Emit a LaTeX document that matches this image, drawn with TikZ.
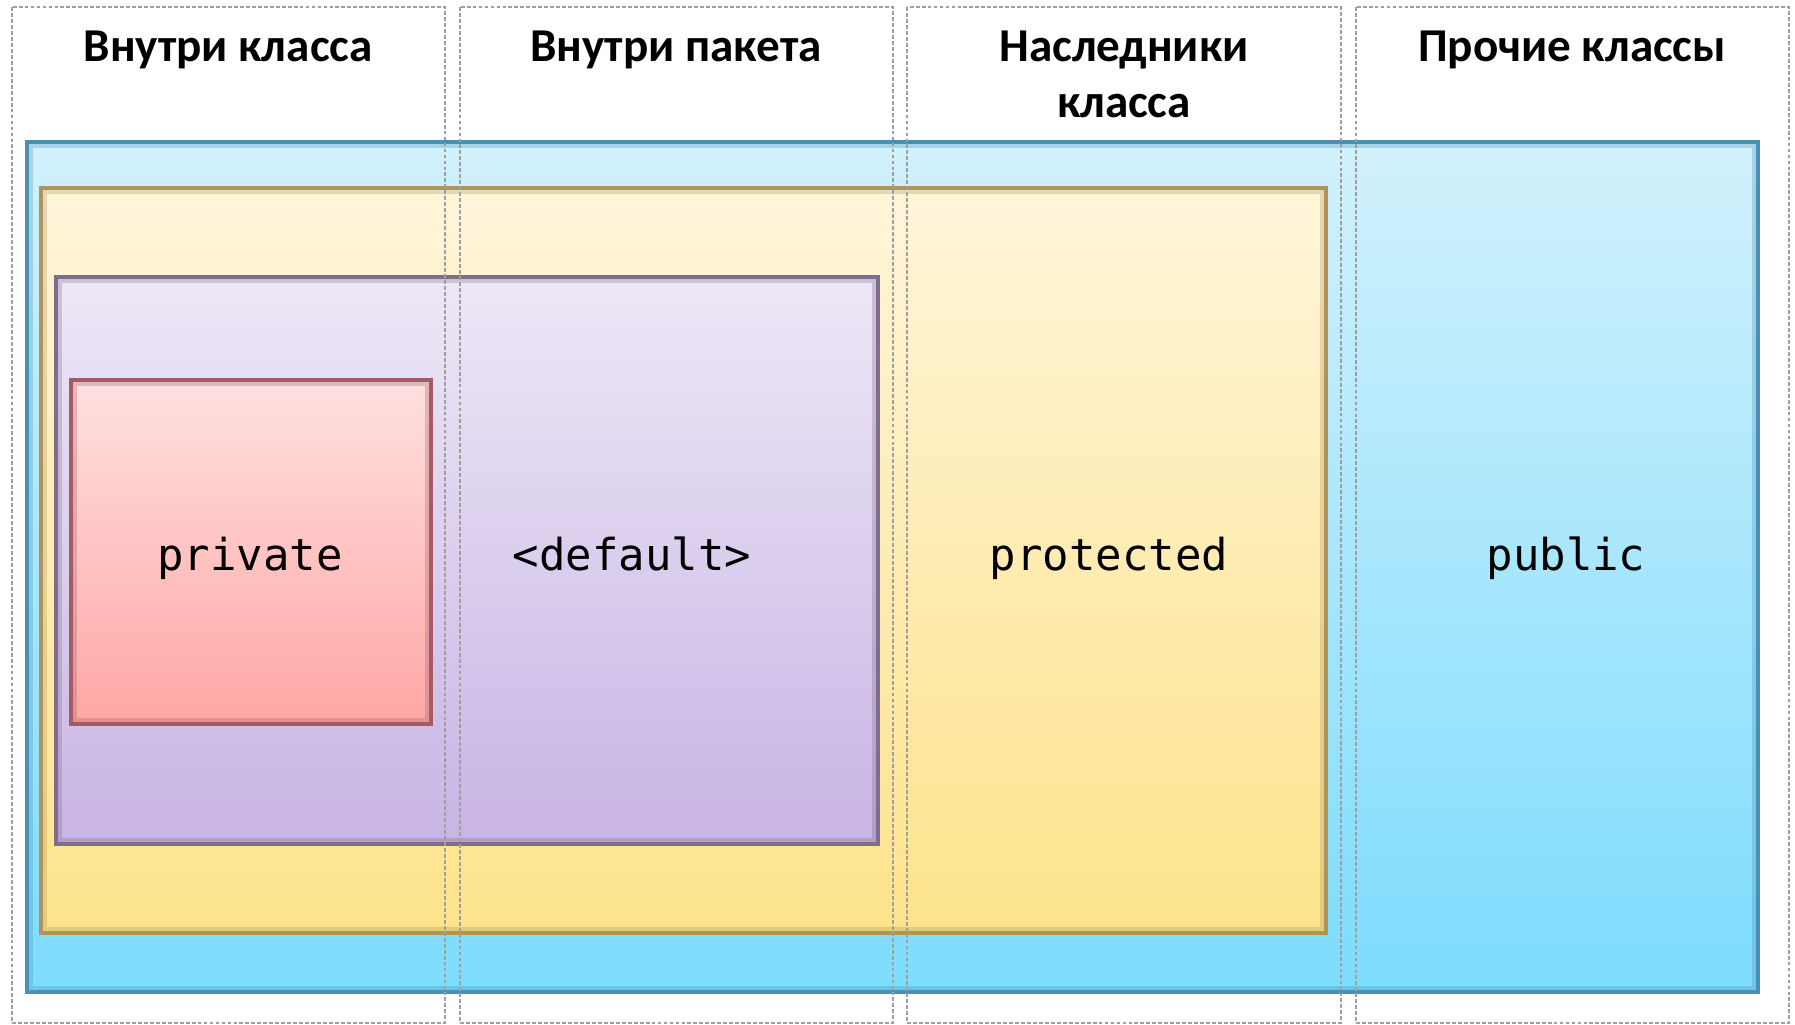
\documentclass[tikz,border=0pt]{standalone}
\usepackage{fontspec}
\setmainfont{Carlito}
\newfontfamily\codefont{DejaVu Sans Mono}
\usepackage{tikz}
\definecolor{pubtop}{HTML}{D2F1FC}
\definecolor{pubbot}{HTML}{7DDCFD}
\definecolor{publine}{HTML}{4A90B5}
\definecolor{prottop}{HTML}{FFF5DA}
\definecolor{protbot}{HTML}{FDE38B}
\definecolor{protline}{HTML}{B0935A}
\definecolor{dflttop}{HTML}{EDE8F7}
\definecolor{dfltbot}{HTML}{C8B4E4}
\definecolor{dfltline}{HTML}{806C8C}
\definecolor{privtop}{HTML}{FFE0E0}
\definecolor{privbot}{HTML}{FFA7A5}
\definecolor{privline}{HTML}{A35B66}
\tikzset{
  head/.style={font={\fontsize{13.4pt}{16pt}\selectfont\bfseries}, align=center, anchor=base, inner sep=0pt},
  code/.style={font={\fontsize{12.5pt}{14pt}\codefont}, anchor=base, inner sep=0pt},
  column/.style={draw=gray!75, dash pattern=on 1.1pt off 0.6pt, line width=0.55pt},
  level/.style={line width=0.9pt}}

\begin{document}
\begin{tikzpicture}[x=0.01cm,y=-0.01cm]
\useasboundingbox (0,0) rectangle (1795,1025);
% public
\shade [level, top color=pubtop, bottom color=pubbot, draw=publine] (27,142) rectangle (1758,992);
\draw [publine, opacity=0.3, line width=1.5pt] (30,145) rectangle (1755,989);
% protected
\shade [level, top color=prottop, bottom color=protbot, draw=protline] (41,188) rectangle (1326,933);
\draw [protline, opacity=0.3, line width=1.5pt] (44,191) rectangle (1323,930);
% default
\shade [level, top color=dflttop, bottom color=dfltbot, draw=dfltline] (56,277) rectangle (878,844);
\draw [dfltline, opacity=0.3, line width=1.5pt] (59,280) rectangle (875,841);
% private
\shade [level, top color=privtop, bottom color=privbot, draw=privline] (71,380) rectangle (431,724);
\draw [privline, opacity=0.3, line width=1.5pt] (74,383) rectangle (428,721);
% labels
\node [code] (priv) at (250,570) {private};
\node [code] (dflt) at (632,570) {<default>};
\node [code] (prot) at (1109,570) {protected};
\node [code] (pub) at (1566,570) {public};
% columns
\draw [column] (12,7) rectangle (445,1023);
\draw [column] (460,7) rectangle (893,1023);
\draw [column] (907,7) rectangle (1341,1023);
\draw [column] (1356,7) rectangle (1789,1023);
\node [head] (hcls) at (228,62) {Внутри класса};
\node [head] (hpkg) at (676,62) {Внутри пакета};
\node [head] (hsub) at (1124,118) {Наследники\\класса};
\node [head] (hoth) at (1572,62) {Прочие классы};
\end{tikzpicture}
\end{document}
